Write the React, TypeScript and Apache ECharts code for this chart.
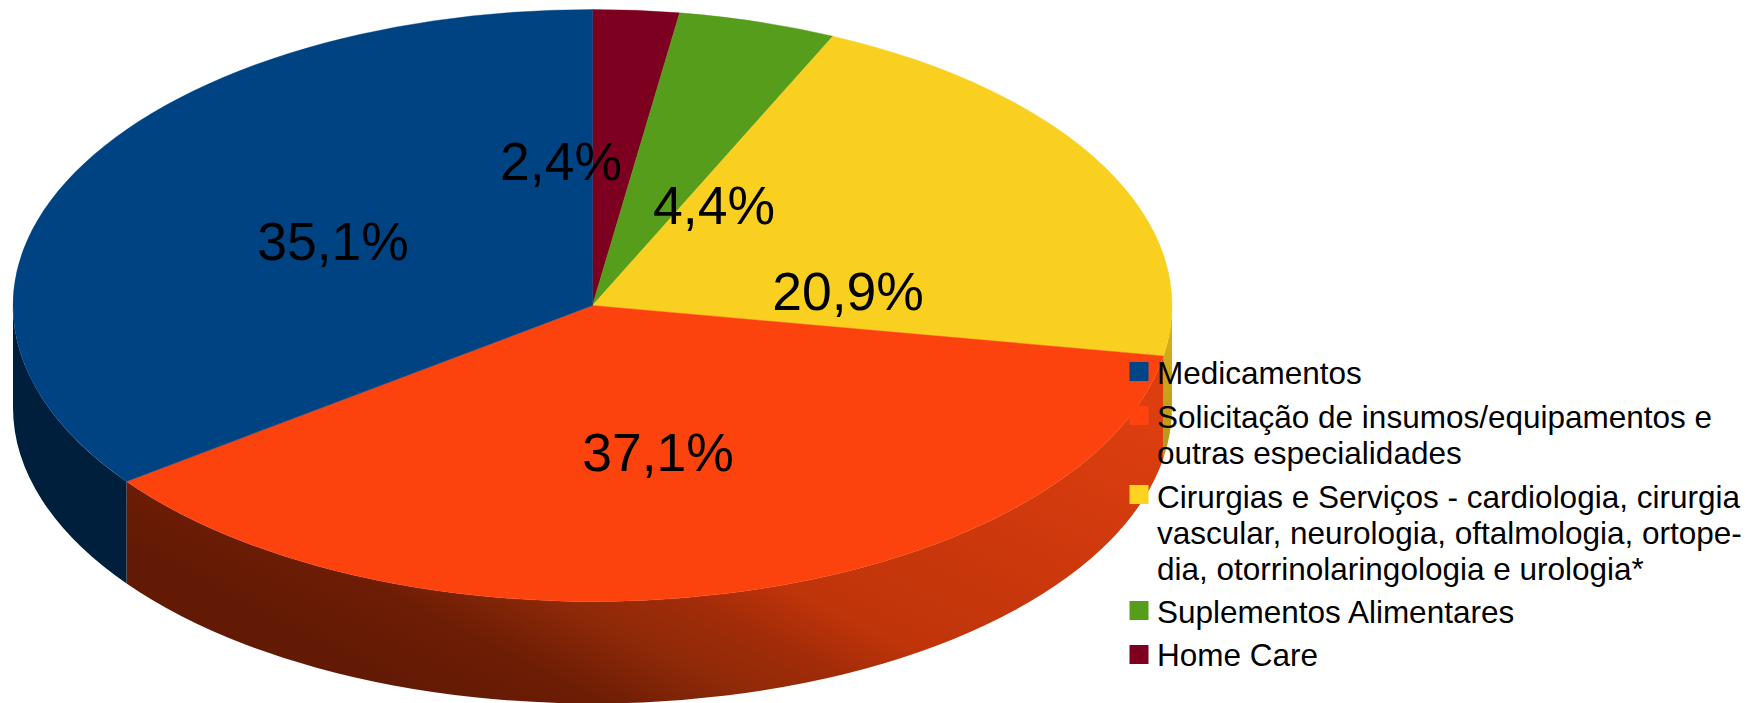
import React, { useEffect, useRef } from "react";
import * as echarts from "echarts";

const categories = [
  "Home Care",
  "Suplementos Alimentares",
  "Cirurgias e Serviços - cardiologia, cirurgia\nvascular, neurologia, oftalmologia, ortope-\ndia, otorrinolaringologia e urologia*",
  "Solicitação de insumos/equipamentos e\noutras especialidades",
  "Medicamentos",
];
const values = [2.4, 4.4, 20.9, 37.1, 35.1];
const valueLabels = ["2,4%", "4,4%", "20,9%", "37,1%", "35,1%"];
const topColors = ["#7e0021", "#579d1c", "#f9cf20", "#fc430e", "#004382"];
const legendColors = ["#7e0021", "#579d1c", "#ffd320", "#ff420e", "#004586"];
const legendOrder = [4, 3, 2, 1, 0];

// layout (pixels)
const CX = 592.5;
const CY = 305.5;
const RX = 579.5;
const RY = 296;
const DEPTH = 102;
const labelCenters = [
  [561, 161],
  [714, 205],
  [848, 291],
  [658, 452],
  [333, 241],
];
const legendIconX = 1129.5;
const legendTextX = 1157;
const legendIconTops = [362, 406, 485, 601, 645];
const legendTextTops = [355, 399, 479, 594, 637];

const total = values.reduce((a, b) => a + b, 0);
const pt = (deg: number, dy = 0) => {
  const r = (deg * Math.PI) / 180;
  return [CX + RX * Math.sin(r), CY - RY * Math.cos(r) + dy];
};
const f = (p: number[]) => `${p[0].toFixed(2)} ${p[1].toFixed(2)}`;

function topPath(a0: number, a1: number) {
  const large = a1 - a0 > 180 ? 1 : 0;
  return `M ${CX} ${CY} L ${f(pt(a0))} A ${RX} ${RY} 0 ${large} 1 ${f(pt(a1))} Z`;
}
function sidePath(a0: number, a1: number) {
  const s = Math.max(a0, 90);
  const e = Math.min(a1, 270);
  if (e <= s) return null;
  const large = e - s > 180 ? 1 : 0;
  return (
    `M ${f(pt(s))} A ${RX} ${RY} 0 ${large} 1 ${f(pt(e))} ` +
    `L ${f(pt(e, DEPTH))} A ${RX} ${RY} 0 ${large} 0 ${f(pt(s, DEPTH))} Z`
  );
}
const sideFills: any[] = [
  "#5f4f10",
  "#3a5e11",
  new echarts.graphic.LinearGradient(1130, 330, 1180, 440, [
    { offset: 0, color: "#dcb41c" },
    { offset: 1, color: "#b8961a" },
  ], true),
  new echarts.graphic.LinearGradient(300, 640, 561, 125, [
    { offset: 0, color: "#621a04" },
    { offset: 0.143, color: "#6e1d05" },
    { offset: 0.268, color: "#8f2a08" },
    { offset: 0.37, color: "#a22c08" },
    { offset: 0.466, color: "#c0340a" },
    { offset: 0.58, color: "#c5360b" },
    { offset: 1, color: "#dc3e0f" },
  ], true),
  "#001f3d",
];

function renderItem(params: any, api: any) {
  const i = params.dataIndex;
  let before = 0;
  for (let k = 0; k < i; k++) before += values[k];
  const a0 = (before / total) * 360;
  const a1 = a0 + (api.value(0) / total) * 360;
  const children: any[] = [];
  const side = sidePath(a0, a1);
  if (side) {
    children.push({
      type: "path",
      z2: 1,
      shape: { pathData: side },
      style: { fill: sideFills[i], stroke: null },
    });
  }
  children.push({
    type: "path",
    z2: 2,
    shape: { pathData: topPath(a0, a1) },
    style: { fill: topColors[i], stroke: topColors[i], lineWidth: 0.4 },
  });
  return { type: "group", children };
}

function renderLabel(params: any) {
  const i = params.dataIndex;
  return {
    type: "text",
    z2: 10,
    style: {
      text: valueLabels[i],
      x: labelCenters[i][0],
      y: labelCenters[i][1],
      align: "center",
      verticalAlign: "middle",
      fontFamily: "Liberation Sans",
      fontSize: 53.5,
      fill: "#000",
    },
  };
}

export default function App() {
  const ref = useRef<HTMLDivElement>(null);
  useEffect(() => {
    document.body.style.margin = "0";
    const chart = echarts.init(ref.current!, undefined, { renderer: "svg" });
    const legendGraphics: any[] = [];
    legendOrder.forEach((idx, row) => {
      legendGraphics.push({
        type: "rect",
        z: 20,
        shape: { x: legendIconX, y: legendIconTops[row], width: 19, height: 19 },
        style: { fill: legendColors[idx] },
      });
      legendGraphics.push({
        type: "text",
        z: 21,
        x: legendTextX,
        y: legendTextTops[row],
        style: {
          text: categories[idx],
          fontFamily: "Liberation Sans",
          fontSize: 31.5,
          lineHeight: 36,
          fill: "#000",
          verticalAlign: "top",
        },
      });
    });
    chart.setOption({
      animation: false,
      backgroundColor: "#ffffff",
      tooltip: { show: false },
      graphic: { elements: legendGraphics },
      series: [
        {
          type: "custom",
          coordinateSystem: "none",
          silent: true,
          z: 2,
          renderItem,
          data: values.map((v, i) => ({ name: categories[i], value: [v] })),
        },
        {
          type: "custom",
          coordinateSystem: "none",
          silent: true,
          z: 3,
          renderItem: renderLabel,
          data: values.map((v, i) => ({ name: valueLabels[i], value: [v] })),
        },
      ],
    });
    return () => chart.dispose();
  }, []);
  return <div ref={ref} style={{ width: 1749, height: 703 }} />;
}
